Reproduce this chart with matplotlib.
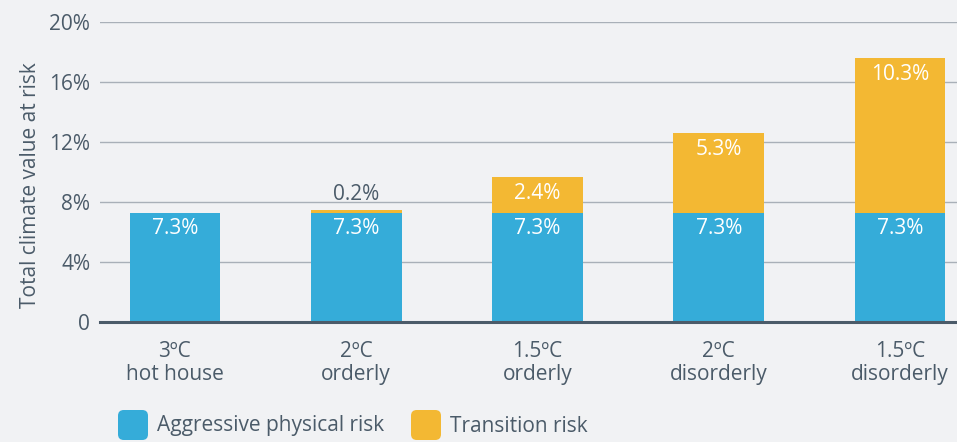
import matplotlib
matplotlib.use("Agg")
import matplotlib.pyplot as plt
from matplotlib.patches import FancyBboxPatch
import numpy as np

categories = ["3ºC\nhot house", "2ºC\norderly", "1.5ºC\norderly", "2ºC\ndisorderly", "1.5ºC\ndisorderly"]
physical = [7.3, 7.3, 7.3, 7.3, 7.3]
transition = [0.0, 0.2, 2.4, 5.3, 10.3]
yticks = [0, 4, 8, 12, 16, 20]
ytick_labels = ["0", "4%", "8%", "12%", "16%", "20%"]

BLUE = "#35ACD9"
YELLOW = "#F3B833"
BG = "#F1F2F4"
TXT = "#4B5B69"
GRID = "#A9B0B8"
FS = 15

plt.rcParams["font.family"] = ["Open Sans", "DejaVu Sans"]

fig = plt.figure(figsize=(9.57, 4.42), dpi=100, facecolor=BG)
ax = fig.add_axes([100/957, (442-322)/442, 857/957, 300/442])
ax.set_facecolor(BG)

x = np.arange(len(categories))
w = 0.5
ax.bar(x, physical, width=w, color=BLUE, zorder=3)
ax.bar(x, transition, width=w, bottom=physical, color=YELLOW, zorder=3)

ax.set_xlim(-0.413, 4.314)
ax.set_ylim(0, 20)
ax.set_yticks(yticks)
ax.set_yticklabels(ytick_labels)
ax.grid(axis="y", color=GRID, linewidth=1.0, zorder=0)
ax.set_axisbelow(True)
for s in ["top", "right", "left"]:
    ax.spines[s].set_visible(False)
ax.spines["bottom"].set_color(TXT)
ax.spines["bottom"].set_linewidth(2.2)
ax.spines["bottom"].set_zorder(4)
ax.tick_params(axis="y", length=0, labelsize=FS, labelcolor=TXT, pad=7)
ax.tick_params(axis="x", length=0, labelsize=FS, labelcolor=TXT, pad=14)
ax.set_xticks(x)
ax.set_xticklabels(categories, linespacing=1.1)
ax.set_ylabel("Total climate value at risk", fontsize=FS, color=TXT)
ax.yaxis.set_label_coords(-(100 - 31) / 857, 0.457)
ax.yaxis.label.set_va("center")

for i in range(len(categories)):
    ax.annotate(f"{physical[i]:.1f}%", (x[i], physical[i]), xytext=(0, -11.5),
                textcoords="offset points", ha="center", va="center",
                color="white", fontsize=FS, zorder=5)
    t = transition[i]
    if t <= 0:
        continue
    top = physical[i] + t
    if t < 1:
        ax.annotate(f"{t:.1f}%", (x[i], top), xytext=(0, 10.5),
                    textcoords="offset points", ha="center", va="center",
                    color=TXT, fontsize=FS, zorder=5)
    else:
        ax.annotate(f"{t:.1f}%", (x[i], top), xytext=(0, -12),
                    textcoords="offset points", ha="center", va="center",
                    color="white", fontsize=FS, zorder=5)

# legend
def legend_item(x0_px, label, color):
    y0 = (442-440)/442
    h = 30/442
    wpx = 30/957
    p = FancyBboxPatch((x0_px/957, y0), wpx, h, boxstyle="round,pad=0,rounding_size=0.006",
                       transform=fig.transFigure, facecolor=color, edgecolor="none",
                       mutation_aspect=957/442)
    fig.patches.append(p)
    fig.text((x0_px + 39)/957, (442-426)/442, label, ha="left", va="center",
             fontsize=FS, color=TXT)

legend_item(118, "Aggressive physical risk", BLUE)
legend_item(411, "Transition risk", YELLOW)

fig.savefig("out.png", dpi=100, facecolor=BG)
